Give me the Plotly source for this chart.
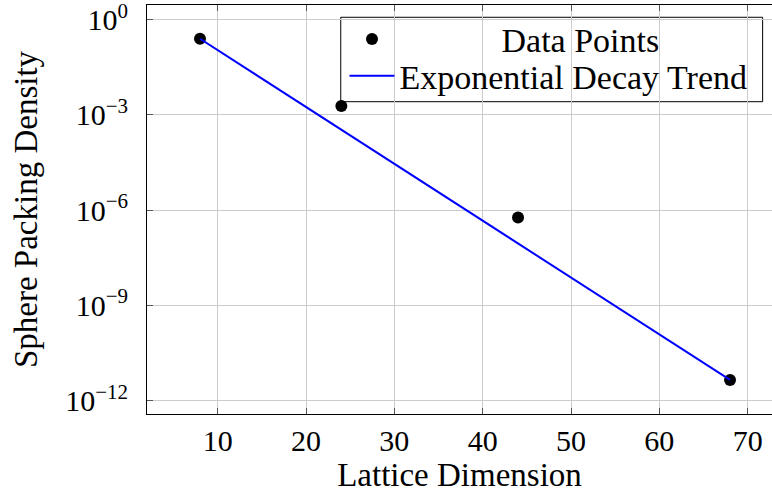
import plotly.graph_objects as go

# Data
dims = [8, 24, 44, 68]
density = [0.25, 0.0019, 5.9e-7, 4.5e-12]
trend_x = [8, 68]
trend_y = [0.25, 4.5e-12]

x_ticks = [10, 20, 30, 40, 50, 60, 70]
y_tickvals = [1, 1e-3, 1e-6, 1e-9, 1e-12]
y_ticktext = ["10<sup>0</sup>", "10<sup>\u22123</sup>", "10<sup>\u22126</sup>",
              "10<sup>\u22129</sup>", "10<sup>\u221212</sup>"]

FONT = "Liberation Serif, DejaVu Serif, serif"
NB = "\u00a0"

fig = go.Figure()
fig.add_trace(go.Scatter(
    x=dims, y=density, mode="markers", name=NB * 12 + "Data Points",
    marker=dict(color="black", size=12, line=dict(width=0)),
    legend="legend",
))
fig.add_trace(go.Scatter(
    x=trend_x, y=trend_y, mode="lines", name="Exponential Decay Trend",
    line=dict(color="#0000ff", width=2),
    legend="legend2",
))

legend_common = dict(
    xanchor="left", yanchor="middle",
    bgcolor="rgba(0,0,0,0)", borderwidth=0,
    font=dict(family=FONT, size=34),
    itemwidth=45,
)

fig.update_layout(
    width=772, height=495,
    margin=dict(l=147, r=0, t=5, b=81, autoexpand=False),
    paper_bgcolor="white", plot_bgcolor="white",
    font=dict(family=FONT, size=33, color="black"),
    showlegend=True,
    legend=dict(x=0.316, y=0.916, **legend_common),
    legend2=dict(x=0.316, y=0.826, **legend_common),
    shapes=[dict(
        type="rect", xref="paper", yref="paper",
        x0=0.31, x1=0.985, y0=0.7636, y1=0.970,
        line=dict(color="black", width=1), fillcolor="white",
        layer="between",
    )],
)
fig.update_xaxes(
    range=[2, 72.75], tickvals=x_ticks,
    showgrid=True, gridcolor="#cccccc", gridwidth=1,
    showline=True, linecolor="black", linewidth=1, mirror="allticks",
    ticks="inside", ticklen=6, tickcolor="#555555",
    tickfont=dict(family=FONT, size=30),
    zeroline=False, automargin=False, ticklabeloverflow="allow",
    title=dict(text="Lattice Dimension", font=dict(family=FONT, size=33), standoff=6),
)
fig.update_yaxes(
    type="log", range=[-12.42, 0.46],
    tickvals=y_tickvals, ticktext=y_ticktext,
    showgrid=True, gridcolor="#cccccc", gridwidth=1,
    showline=True, linecolor="black", linewidth=1, mirror=False,
    ticks="inside", ticklen=6, tickcolor="#555555",
    tickfont=dict(family=FONT, size=30), ticklabelstandoff=12,
    zeroline=False, automargin=False, ticklabeloverflow="allow",
    title=dict(text="Sphere Packing Density", font=dict(family=FONT, size=33), standoff=17),
)

fig.write_html(
    "out.html",
    config={"displayModeBar": False},
    post_script="document.body.style.margin='0';document.body.style.overflow='hidden';",
)
